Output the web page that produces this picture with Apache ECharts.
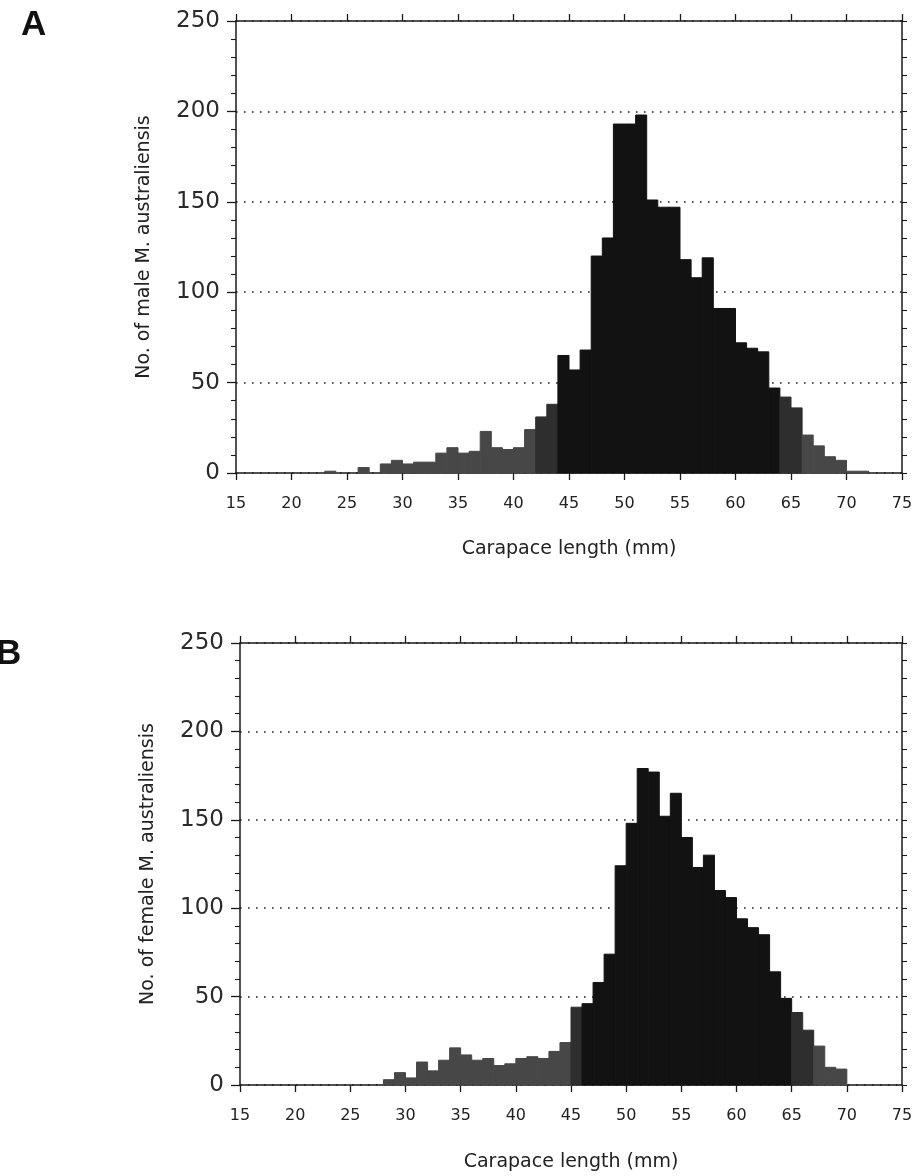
<!DOCTYPE html>
<html>
<head>
<meta charset="utf-8">
<script src="https://cdn.jsdelivr.net/npm/echarts@6/dist/echarts.min.js"></script>
<style>
html,body{margin:0;padding:0;background:#ffffff;}
#chart{width:920px;height:1176px;}
</style>
</head>
<body>
<div id="chart"></div>
<script>
// ---- data (1 mm carapace-length bins, bin start in mm) ----
const binStarts = [15,16,17,18,19,20,21,22,23,24,25,26,27,28,29,30,31,32,33,34,35,36,37,38,39,40,41,42,43,44,45,46,47,48,49,50,51,52,53,54,55,56,57,58,59,60,61,62,63,64,65,66,67,68,69,70,71,72,73,74];
const binWidth = 1;
const maleCounts = [0,0,0,0,0,0,0,0,1,0,0,3,0,5,7,5,6,6,11,14,11,12,23,14,13,14,24,31,38,65,57,68,120,130,193,193,198,151,147,147,118,108,119,91,91,72,69,67,47,42,36,21,15,9,7,1,1,0,0,0];
const femaleCounts = [0,0,0,0,0,0,0,0,0,0,0,0,0,3,7,4,13,8,14,21,17,14,15,11,12,15,16,15,19,24,44,46,58,74,124,148,179,177,152,165,140,123,130,110,106,94,89,85,64,49,41,31,22,10,9,0,0,0,0,0];
const xTickLabels = ['15','20','25','30','35','40','45','50','55','60','65','70','75'];
const yTickLabels = ['0','50','100','150','200','250'];
const panelLetters = ['A','B'];
const yTitles = ['No. of male M. australiensis','No. of female M. australiensis'];
const xTitle = 'Carapace length (mm)';

// ---- styling ----
const INK = '#1a1a1a';
const FONT = 'DejaVu Sans';

function barColor(v){
  if (v < 26) return '#474747';
  if (v < 45) return '#2e2e2e';
  return '#121212';
}

function renderBar(params, api){
  const x0 = api.value(0), x1 = api.value(1), v = api.value(2);
  if (!(v > 0)) return null;
  const pTop = api.coord([x0, v]);
  const pBot = api.coord([x1, 0]);
  const c = barColor(v);
  return {
    type: 'rect',
    shape: {x: pTop[0], y: pTop[1], width: pBot[0] - pTop[0], height: pBot[1] - pTop[1]},
    style: {fill: c, stroke: c, lineWidth: 1}
  };
}

const grids = [
  {left: 236, right: 18, top: 21, height: 452},
  {left: 240, right: 18, top: 643, height: 442}
];
const xNameGaps = [67, 68];
const xLabelMargins = [23, 23];

const xAxes = [], yAxes = [], series = [];
[maleCounts, femaleCounts].forEach(function(counts, g){
  // bottom x axis with labels
  xAxes.push({
    gridIndex: g, type: 'value', position: 'bottom', min: 15, max: 75, interval: 5,
    axisLine: {show: true, onZero: false, lineStyle: {color: INK, width: 1.5}},
    axisTick: {show: true, inside: false, length: 7, lineStyle: {color: INK, width: 1.3}},
    axisLabel: {show: true, margin: xLabelMargins[g], color: '#222', fontFamily: FONT, fontSize: 16,
      formatter: function(v){ return xTickLabels[Math.round((v - 15) / 5)]; }},
    splitLine: {show: false},
    name: xTitle, nameLocation: 'middle', nameGap: xNameGaps[g],
    nameTextStyle: {color: '#222', fontFamily: FONT, fontSize: 19}
  });
  // top x axis, ticks only
  xAxes.push({
    gridIndex: g, type: 'value', position: 'top', min: 15, max: 75, interval: 5,
    axisLine: {show: true, onZero: false, lineStyle: {color: INK, width: 1.5}},
    axisTick: {show: true, inside: false, length: 7, lineStyle: {color: INK, width: 1.3}},
    axisLabel: {show: false}, splitLine: {show: false}
  });
  // left y axis
  yAxes.push({
    gridIndex: g, type: 'value', position: 'left', min: 0, max: 250, interval: 50,
    axisLine: {show: true, onZero: false, lineStyle: {color: INK, width: 1.5}},
    axisTick: {show: true, inside: false, length: 9, lineStyle: {color: INK, width: 1.3}},
    minorTick: {show: true, splitNumber: 5, length: 5, lineStyle: {color: INK, width: 1.1}},
    axisLabel: {show: true, margin: 16, color: '#2a2a2a', fontFamily: FONT, fontSize: 23,
      formatter: function(v){ return yTickLabels[Math.round(v / 50)]; }},
    splitLine: {show: true, lineStyle: {color: '#222', width: 1.6, type: [1.6, 6.4]}},
    name: yTitles[g], nameLocation: 'middle', nameGap: 82, nameRotate: 90,
    nameTextStyle: {color: '#222', fontFamily: FONT, fontSize: 19}
  });
  // right y axis, ticks only
  yAxes.push({
    gridIndex: g, type: 'value', position: 'right', min: 0, max: 250, interval: 10,
    axisLine: {show: true, onZero: false, lineStyle: {color: INK, width: 1.5}},
    axisTick: {show: true, inside: false, length: 5, lineStyle: {color: INK, width: 1.1}},
    axisLabel: {show: false}, splitLine: {show: false}
  });
  series.push({
    type: 'custom', xAxisIndex: g * 2, yAxisIndex: g * 2, renderItem: renderBar,
    encode: {x: [0, 1], y: 2},
    data: binStarts.map(function(s, i){ return [s, s + binWidth, counts[i]]; }),
    z: 2, silent: true
  });
});

const chart = echarts.init(document.getElementById('chart'), null, {renderer: 'canvas'});
chart.setOption({
  backgroundColor: '#ffffff',
  animation: false,
  grid: grids,
  xAxis: xAxes,
  yAxis: yAxes,
  series: series,
  graphic: [
    {type: 'text', left: 21, top: 8, style: {text: panelLetters[0], fill: '#111', font: 'bold 35px "Liberation Sans"'}},
    {type: 'text', left: -4, top: 637, style: {text: panelLetters[1], fill: '#111', font: 'bold 35px "Liberation Sans"'}}
  ]
});
</script>
</body>
</html>
